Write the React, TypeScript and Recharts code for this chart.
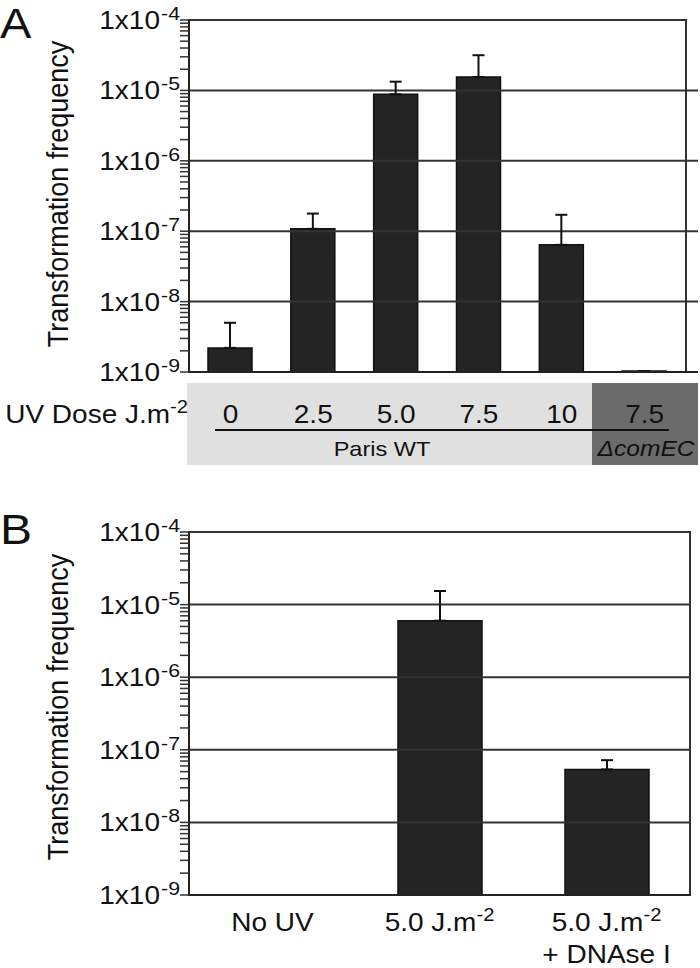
import React from 'react';
import { BarChart, Bar, XAxis, YAxis, ErrorBar, ReferenceLine, ReferenceArea } from 'recharts';

// the original figure is slightly stretched sideways, so text gets a small scaleX
const SX = 1.12;
const FONT = '"Liberation Sans", Arial, Helvetica, sans-serif';

// log axis: labelled decades and the unlabelled minor ticks between them
const decadeValues = [1e-9, 1e-8, 1e-7, 1e-6, 1e-5, 1e-4];
const decadeExps = ['-9', '-8', '-7', '-6', '-5', '-4'];
const minorSteps = [2, 3, 4, 5, 6, 7, 8, 9];

// panel A: UV dose series
const doseLabels = ['0', '2.5', '5.0', '7.5', '10', '7.5'];
const doseFreq = [2.2e-9, 1.08e-7, 8.8e-6, 1.55e-5, 6.4e-8, 1.03e-9];
const doseErrTop = [5.0e-9, 1.78e-7, 1.33e-5, 3.16e-5, 1.71e-7, 1.03e-9];

// panel B: treatment series
const treatLabels = ['No UV', '5.0 J.m-2', '5.0 J.m-2 + DNAse I'];
const treatMain = ['No UV', '5.0 J.m', '5.0 J.m'];
const treatSup = ['', '-2', '-2'];
const treatSecond = ['', '', '+ DNAse I'];
const treatFreq = [null, 6.0e-6, 5.37e-8];
const treatErrTop = [null, 1.54e-5, 7.2e-8];

const allTicks = decadeValues.flatMap((d, i) =>
  i < decadeValues.length - 1 ? [d, ...minorSteps.map((k) => k * d)] : [d]
);

const doseData = doseLabels.map((dose, i) => ({
  dose,
  freq: doseFreq[i],
  err: [0, doseErrTop[i] - doseFreq[i]],
}));

const treatData = treatLabels.map((treat, i) => ({
  treat,
  freq: treatFreq[i],
  err: treatFreq[i] == null ? undefined : [0, (treatErrTop[i] as number) - (treatFreq[i] as number)],
}));

// draws its own tick mark (minor + major) and the 1x10^n label on decades
const YTick = (props: any) => {
  const { x, y, payload } = props;
  const i = decadeValues.indexOf(payload.value);
  return (
    <g transform={`translate(${x},${y})`}>
      <line x1={0} x2={9} y1={0} y2={0} stroke="#333" strokeWidth={1.5} />
      {i >= 0 && (
        <text transform={`scale(${SX},1)`} textAnchor="end" fontSize={25} fill="#111" fontFamily={FONT} dy={9}>
          1x10<tspan dx={1} dy={-9} fontSize={19}>{decadeExps[i]}</tspan>
        </text>
      )}
    </g>
  );
};

const DoseTick = (props: any) => {
  const { x, y, payload } = props;
  return (
    <g transform={`translate(${x},${y + 51})`}>
      <text transform={`scale(${SX},1)`} textAnchor="middle" fontSize={25} fill="#111" fontFamily={FONT}>
        {payload.value}
      </text>
    </g>
  );
};

const TreatTick = (props: any) => {
  const { x, y, index } = props;
  return (
    <g transform={`translate(${x},${y + 36})`}>
      <text transform={`scale(${SX},1)`} textAnchor="middle" fontSize={25} fill="#111" fontFamily={FONT}>
        {treatMain[index]}
        {treatSup[index] && <tspan dy={-10} fontSize={18}>{treatSup[index]}</tspan>}
      </text>
      {treatSecond[index] && (
        <text transform={`scale(${SX},1)`} y={32} textAnchor="middle" fontSize={25} fill="#111" fontFamily={FONT}>
          {treatSecond[index]}
        </text>
      )}
    </g>
  );
};

const gridLines = decadeValues.slice(1, -1);

const yAxisProps = {
  type: 'number' as const,
  scale: 'log' as const,
  domain: [1e-9, 1e-4],
  allowDataOverflow: true,
  ticks: allTicks,
  interval: 0,
  width: 189,
  tickSize: 9,
  tickMargin: 0,
  axisLine: { stroke: '#222', strokeWidth: 2 },
  tickLine: false,
  tick: <YTick />,
};

const PanelA = () => (
  <BarChart width={700} height={472} data={doseData} margin={{ top: 20, right: 2, bottom: 0, left: 0 }}>
    <XAxis
      dataKey="dose"
      height={100}
      axisLine={{ stroke: '#222', strokeWidth: 2 }}
      tickLine={false}
      tickSize={0}
      tickMargin={0}
      interval={0}
      padding={{ left: 0, right: 12 }}
      tick={<DoseTick />}
    />
    <YAxis {...yAxisProps} />
    {gridLines.map((v) => (
      <ReferenceLine key={v} y={v} stroke="#333" strokeWidth={2} />
    ))}
    <ReferenceArea y1={1e-9} y2={1e-4} fill="none" fillOpacity={0} stroke="#333" strokeWidth={2} />
    <Bar dataKey="freq" fill="#242424" stroke="#111" strokeWidth={1.5} barSize={44} isAnimationActive={false}>
      <ErrorBar dataKey="err" width={6} stroke="#111" strokeWidth={2} direction="y" />
    </Bar>
  </BarChart>
);

const PanelB = () => (
  <BarChart width={700} height={468} data={treatData} margin={{ top: 32, right: 10, bottom: 0, left: 0 }}>
    <XAxis
      dataKey="treat"
      height={73}
      axisLine={{ stroke: '#222', strokeWidth: 2 }}
      tickLine={false}
      tickSize={0}
      tickMargin={0}
      interval={0}
      tick={<TreatTick />}
    />
    <YAxis {...yAxisProps} />
    {gridLines.map((v) => (
      <ReferenceLine key={v} y={v} stroke="#333" strokeWidth={2} />
    ))}
    <ReferenceArea y1={1e-9} y2={1e-4} fill="none" fillOpacity={0} stroke="#333" strokeWidth={2} />
    <Bar dataKey="freq" fill="#242424" stroke="#111" strokeWidth={1.5} barSize={84} isAnimationActive={false}>
      <ErrorBar dataKey="err" width={6} stroke="#111" strokeWidth={2} direction="y" />
    </Bar>
  </BarChart>
);

export default function App() {
  const textStyle = { fontFamily: FONT, fill: '#111' };
  return (
    <div style={{ position: 'absolute', top: 0, left: 0, width: 700, height: 968, background: '#fff', overflow: 'hidden' }}>
      {/* grey strain band under panel A */}
      <div style={{ position: 'absolute', left: 187, top: 383, width: 405, height: 82, background: '#e0e0e0' }} />
      <div style={{ position: 'absolute', left: 592, top: 383, width: 106, height: 82, background: '#6b6b6b' }} />
      <div style={{ position: 'absolute', left: 215, top: 429, width: 454, height: 2, background: '#111' }} />

      <div style={{ position: 'absolute', top: 0, left: 0 }}>
        <PanelA />
      </div>
      <div style={{ position: 'absolute', top: 500, left: 0 }}>
        <PanelB />
      </div>

      <svg width={700} height={968} style={{ position: 'absolute', top: 0, left: 0, pointerEvents: 'none' }}>
        <g transform={`translate(0,38) scale(${SX},1)`}>
          <text fontSize={42} {...textStyle}>A</text>
        </g>
        <g transform={`translate(0,544) scale(${SX},1)`}>
          <text fontSize={43} {...textStyle}>B</text>
        </g>
        <g transform={`translate(68,194) scale(${SX},1) rotate(-90)`}>
          <text fontSize={27} textAnchor="middle" {...textStyle}>Transformation frequency</text>
        </g>
        <g transform={`translate(68,707) scale(${SX},1) rotate(-90)`}>
          <text fontSize={27} textAnchor="middle" {...textStyle}>Transformation frequency</text>
        </g>
        <g transform={`translate(188,423) scale(${SX},1)`}>
          <text fontSize={25} textAnchor="end" {...textStyle}>
            UV Dose J.m<tspan dy={-10} fontSize={18}>-2</tspan>
          </text>
        </g>
        <g transform={`translate(382,456) scale(${SX},1)`}>
          <text fontSize={21} textAnchor="middle" {...textStyle}>Paris WT</text>
        </g>
        <g transform={`translate(646,456) scale(${SX},1)`}>
          <text fontSize={22} textAnchor="middle" fontStyle="italic" {...textStyle}>ΔcomEC</text>
        </g>
      </svg>
    </div>
  );
}
